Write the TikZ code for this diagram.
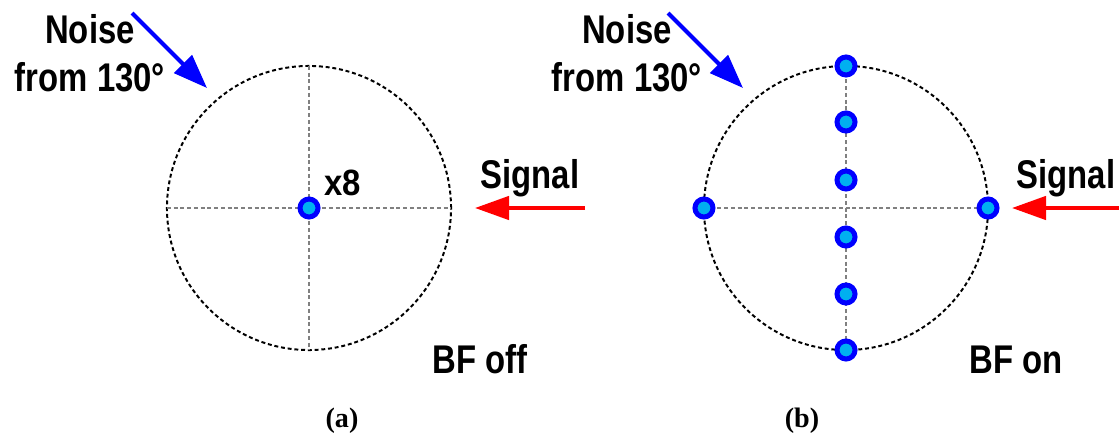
\documentclass[tikz,border=0pt]{standalone}
\usepackage{fontspec}
\setmainfont{Liberation Serif}
\newfontfamily\lblfont[FakeStretch=0.82]{Liberation Sans}
\newfontfamily\numfont[FakeStretch=0.9]{Liberation Sans}
\usetikzlibrary{arrows.meta, positioning}

\definecolor{elemfill}{RGB}{0,176,240}

\begin{document}
\begin{tikzpicture}[
  x=0.025cm, y=-0.025cm,
  lbl/.style={font=\lblfont\bfseries\fontsize{28.5}{34}\selectfont, align=center, inner sep=0pt},
  cnt/.style={font=\numfont\bfseries\fontsize{26}{30}\selectfont, inner sep=0pt},
  captxt/.style={font=\bfseries\fontsize{20}{24}\selectfont, inner sep=0pt},
  field/.style={circle, draw, minimum size=7.1cm, inner sep=0pt, outer sep=0pt,
                line width=1.4pt, dash pattern=on 2.8pt off 2pt},
  axis/.style={draw=gray, line width=1pt, dash pattern=on 2.8pt off 2pt},
  elem/.style={circle, draw=blue, fill=elemfill, line width=0.125cm,
               minimum size=0.45cm, inner sep=0pt},
  noisearrow/.style={draw=blue, line width=2.8pt, -{Triangle[length=0.85cm, width=0.62cm]}},
  sigarrow/.style={draw=red, line width=2.8pt, -{Triangle[length=0.85cm, width=0.58cm]}}
]
\useasboundingbox (0,0) rectangle (1119,433);

% (a) beamforming off
\node[field] (fieldA) at (309,208) {};
\draw[axis] (fieldA.north) -- (fieldA.south);
\draw[axis] (fieldA.west) -- (fieldA.east);
\node[elem] (elemA) at (fieldA.center) {};
\node[cnt, anchor=base] (countA) at (343,195) {x8};

\node[lbl, anchor=north] (noiseA) at (90,14) {Noise\\from 130°};
\coordinate (noiseAfrom) at (132,13);
\coordinate (noiseAto) at (207,88);
\draw[noisearrow] (noiseAfrom) -- (noiseAto);

\node[lbl, anchor=base] (sigA) at (530,188) {Signal};
\coordinate (sigAfrom) at (585,208);
\coordinate (sigAto) at (475,208);
\draw[sigarrow] (sigAfrom) -- (sigAto);

\node[lbl, anchor=base] (bfA) at (480,373) {BF off};
\node[captxt, anchor=base] (capA) at (342,427) {(a)};

% (b) beamforming on
\node[field] (fieldB) at (846,208) {};
\draw[axis] (fieldB.north) -- (fieldB.south);
\draw[axis] (fieldB.west) -- (fieldB.east);
\foreach \i/\yy in {1/66, 2/122, 3/180, 4/237, 5/294, 6/350}
  \node[elem] (elemB\i) at (846,\yy) {};
\node[elem] (elemBw) at (fieldB.west) {};
\node[elem] (elemBe) at (fieldB.east) {};

\node[lbl, anchor=north] (noiseB) at (627,14) {Noise\\from 130°};
\coordinate (noiseBfrom) at (668,13);
\coordinate (noiseBto) at (743,88);
\draw[noisearrow] (noiseBfrom) -- (noiseBto);

\node[lbl, anchor=base] (sigB) at (1066,188) {Signal};
\coordinate (sigBfrom) at (1119,208);
\coordinate (sigBto) at (1012,208);
\draw[sigarrow] (sigBfrom) -- (sigBto);

\node[lbl, anchor=base] (bfB) at (1016,373) {BF on};
\node[captxt, anchor=base] (capB) at (802,427) {(b)};

\end{tikzpicture}
\end{document}
